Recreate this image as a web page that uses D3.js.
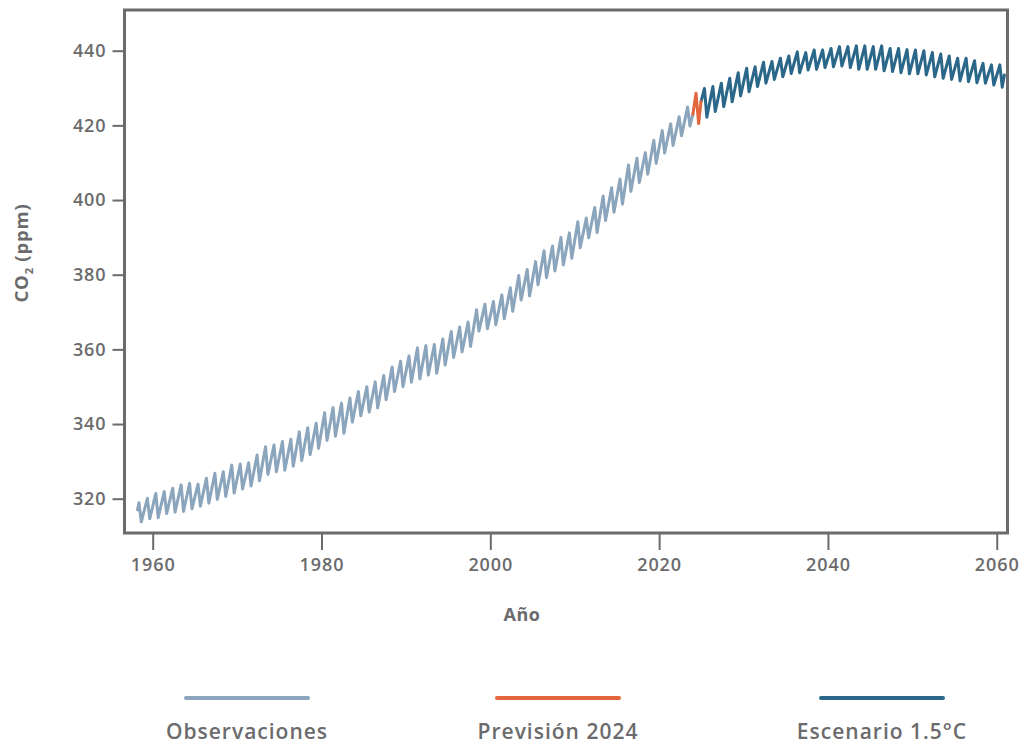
<!DOCTYPE html>
<html lang="es">
<head>
<meta charset="utf-8">
<title>CO2 (ppm) – Observaciones, Previsión 2024, Escenario 1.5°C</title>
<script src="https://cdn.jsdelivr.net/npm/d3@7"></script>
<style>
  html, body { margin: 0; padding: 0; background: #ffffff; }
  svg { display: block; }
  text { font-family: "Open Sans", "Noto Sans", sans-serif; fill: #6b6b6d; }
</style>
</head>
<body>
<svg id="chart" width="1025" height="744"></svg>
<script>
// ---- Data ---------------------------------------------------------------
// Tick labels
const xTicks = [1960, 1980, 2000, 2020, 2040, 2060];
const yTicks = [320, 340, 360, 380, 400, 420, 440];

// Observed record: seasonal maximum (May) and minimum (autumn) per year, ppm
const obsFirstYear = 1958;
const obsPeak = [
  318.9, 320.1, 321.4, 321.9, 322.8, 323.7, 324.1, 323.9, 325.5, 326.8,
  327.2, 329.0, 329.3, 329.6, 331.7, 333.9, 334.4, 335.3, 335.9, 337.9,
  339.0, 340.2, 343.0, 344.4, 345.6, 347.0, 348.7, 350.0, 351.3, 353.0,
  355.3, 356.8, 358.2, 360.4, 361.0, 361.3, 362.8, 364.8, 366.0, 367.3,
  370.6, 372.1, 372.8, 374.6, 376.5, 379.8, 381.4, 383.5, 386.4, 387.7,
  390.0, 391.2, 394.2, 395.2, 398.0, 401.1, 403.3, 405.6, 409.4, 411.2,
  412.7, 416.0, 418.6, 420.4, 422.3, 424.9
];
const obsTrough = [
  313.8, 314.6, 314.9, 316.0, 316.4, 316.6, 317.3, 318.0, 318.8, 319.8,
  320.6, 321.5, 322.6, 323.4, 324.8, 326.5, 327.2, 327.6, 328.7, 330.2,
  331.8, 333.5, 335.6, 336.7, 337.5, 340.5, 342.2, 343.2, 344.3, 346.5,
  348.7, 350.0, 351.2, 352.1, 353.1, 353.6, 355.8, 357.8, 359.3, 360.8,
  364.9, 365.5, 366.6, 368.2, 370.2, 373.2, 374.3, 377.3, 379.2, 381.0,
  382.6, 384.4, 387.2, 389.9, 391.3, 394.5, 396.7, 398.9, 402.3, 404.7,
  406.9, 409.8, 412.6, 414.6, 417.2, 419.8
];
const obsStart = [1958.2, 317.0];   // first monthly value (March 1958)
const obsEnd   = [2024.0, 423.0];   // last value, where the 2024 forecast begins

// 2024 forecast (decimal year, ppm)
const forecastTime  = [2024.0, 2024.37, 2024.68, 2024.96];
const forecastValue = [423.0, 428.6, 420.5, 426.3];

// 1.5 °C scenario: seasonal maximum and minimum per year, 2025–2060
const scenFirstYear = 2025;
const scenPeak = [
  429.9, 430.4, 431.3, 432.6, 434.1, 435.3, 435.7, 436.9, 437.1, 438.0,
  438.6, 439.7, 439.5, 440.2, 440.2, 440.6, 441.1, 441.1, 441.3, 441.3,
  441.1, 441.3, 440.6, 440.6, 440.3, 440.2, 440.0, 439.5, 439.1, 438.6,
  438.0, 438.0, 437.3, 436.6, 436.2, 436.2
];
const scenTrough = [
  422.2, 423.7, 425.0, 426.3, 427.9, 429.0, 430.4, 431.3, 432.3, 433.0,
  433.9, 434.1, 434.8, 435.0, 435.5, 435.7, 435.9, 435.5, 435.0, 435.0,
  435.0, 434.6, 434.4, 434.1, 433.8, 433.8, 433.5, 433.0, 432.6, 432.3,
  431.9, 431.7, 431.4, 431.3, 430.8, 430.2
];
const scenEnd = [2060.9, 433.5];

// Legend entries
const legendLabels = ["Observaciones", "Previsión 2024", "Escenario 1.5°C"];
const seriesColors = ["#8ba5bd", "#e3663d", "#2a6788"];

// ---- Layout ---------------------------------------------------------------
const frame = { left: 124.5, top: 10, right: 1007.5, bottom: 533 };
const peakPhase = 0.37;    // May
const troughPhase = 0.65;  // early autumn

const svg = d3.select("#chart");

const x = d3.scaleLinear().domain([1960, 2060]).range([152.7, 996.75]);
const y = d3.scaleLinear().domain([320, 440]).range([498.7, 50.7]);

// Build the zig-zag seasonal series from the yearly extremes
function seasonal(firstYear, peaks, troughs) {
  const pts = [];
  peaks.forEach((p, i) => {
    pts.push([firstYear + i + peakPhase, p]);
    pts.push([firstYear + i + troughPhase, troughs[i]]);
  });
  return pts;
}

const obsSeries = [obsStart, ...seasonal(obsFirstYear, obsPeak, obsTrough), obsEnd];
const forecastSeries = forecastTime.map((t, i) => [t, forecastValue[i]]);
const scenSeries = [forecastSeries[forecastSeries.length - 1],
                    ...seasonal(scenFirstYear, scenPeak, scenTrough), scenEnd];

const line = d3.line().x(d => x(d[0])).y(d => y(d[1]));

// ---- Axes -----------------------------------------------------------------
const axisColor = "#6b6b6d";

const yAxis = svg.append("g")
  .attr("transform", `translate(${frame.left},0)`)
  .call(d3.axisLeft(y).tickValues(yTicks).tickSize(12).tickPadding(6).tickFormat(d3.format("d")));
yAxis.select(".domain").remove();
yAxis.selectAll(".tick line").attr("stroke", axisColor).attr("stroke-width", 2);
yAxis.selectAll(".tick text")
  .style("font-family", '"Open Sans", sans-serif')
  .style("font-size", "18px").style("font-weight", 600)
  .style("letter-spacing", "0.9px").attr("fill", axisColor);

const xAxis = svg.append("g")
  .attr("transform", `translate(0,${frame.bottom})`)
  .call(d3.axisBottom(x).tickValues(xTicks).tickSize(17).tickPadding(8).tickFormat(d3.format("d")));
xAxis.select(".domain").remove();
xAxis.selectAll(".tick line").attr("stroke", axisColor).attr("stroke-width", 2);
xAxis.selectAll(".tick text")
  .style("font-family", '"Open Sans", sans-serif')
  .style("font-size", "18px").style("font-weight", 600)
  .style("letter-spacing", "0.9px").attr("fill", axisColor);

// ---- Series ---------------------------------------------------------------
const plot = svg.append("g");

plot.append("path").datum(obsSeries)
  .attr("d", line).attr("fill", "none")
  .attr("stroke", seriesColors[0]).attr("stroke-width", 3)
  .attr("stroke-linejoin", "round").attr("stroke-linecap", "round");

plot.append("path").datum(scenSeries)
  .attr("d", line).attr("fill", "none")
  .attr("stroke", seriesColors[2]).attr("stroke-width", 3)
  .attr("stroke-linejoin", "round").attr("stroke-linecap", "round");

plot.append("path").datum(forecastSeries)
  .attr("d", line).attr("fill", "none")
  .attr("stroke", seriesColors[1]).attr("stroke-width", 3)
  .attr("stroke-linejoin", "round").attr("stroke-linecap", "round");

// Plot frame
svg.append("rect")
  .attr("x", frame.left).attr("y", frame.top)
  .attr("width", frame.right - frame.left).attr("height", frame.bottom - frame.top)
  .attr("fill", "none").attr("stroke", axisColor).attr("stroke-width", 3);

// ---- Axis titles ------------------------------------------------------------
svg.append("text")
  .attr("x", 522).attr("y", 621)
  .attr("text-anchor", "middle")
  .style("font-size", "18px").style("font-weight", 700).style("letter-spacing", "0.5px")
  .text("Año");

const yTitle = svg.append("text")
  .attr("transform", "translate(28,253) rotate(-90)")
  .attr("text-anchor", "middle")
  .style("font-size", "18.5px").style("font-weight", 700).style("letter-spacing", "0.8px");
yTitle.append("tspan").text("CO");
yTitle.append("tspan").attr("dy", 5).style("font-size", "11px").text("2");
yTitle.append("tspan").attr("dy", -5).text(" (ppm)");

// ---- Legend -------------------------------------------------------------------
const legendX = [247, 558, 882];
const legend = svg.append("g");
legendLabels.forEach((label, i) => {
  legend.append("line")
    .attr("x1", legendX[i] - 61).attr("x2", legendX[i] + 61)
    .attr("y1", 698).attr("y2", 698)
    .attr("stroke", seriesColors[i]).attr("stroke-width", 4)
    .attr("stroke-linecap", "round");
  legend.append("text")
    .attr("x", legendX[i]).attr("y", 739)
    .attr("text-anchor", "middle")
    .style("font-size", "21px").style("font-weight", 600).style("letter-spacing", "1px")
    .text(label);
});
</script>
</body>
</html>
